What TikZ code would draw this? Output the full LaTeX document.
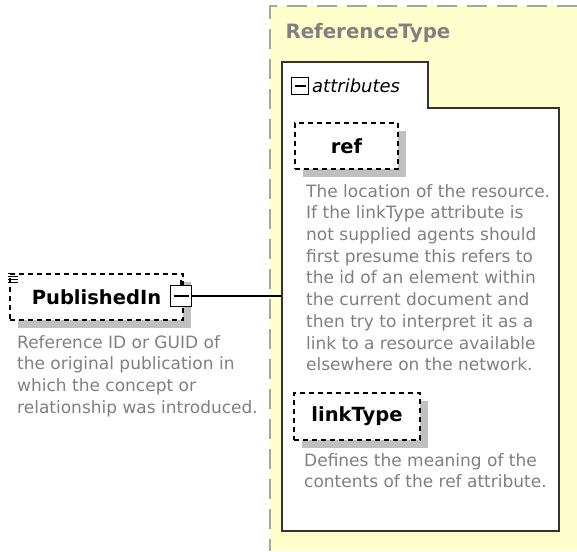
\documentclass[tikz,border=0pt]{standalone}
\usepackage{fontspec}
\setmainfont{DejaVu Sans}
\usetikzlibrary{shadows}

\definecolor{typebg}{RGB}{255,255,206}
\definecolor{typeline}{RGB}{168,168,150}
\definecolor{doctext}{RGB}{128,128,128}
\definecolor{shadowgray}{RGB}{192,192,192}

\begin{document}
\begin{tikzpicture}[x=1pt, y=-1pt,
    elem/.style={draw, dash pattern=on 5pt off 4pt, fill=white, line width=1.6pt, inner sep=0pt,
        font=\fontsize{19.5}{22}\selectfont\bfseries,
        drop shadow={shadow xshift=8pt, shadow yshift=-8pt, fill=shadowgray, opacity=1}},
    doc/.style={anchor=north west, align=left, text=doctext, inner sep=0pt,
        font=\fontsize{17}{21.7}\selectfont},
    toggle/.style={draw, line width=1.5pt, fill=white, inner sep=0pt, path picture={
        \draw[line width=1.5pt] ([xshift=3pt]path picture bounding box.west) -- ([xshift=-3pt]path picture bounding box.east);}}
]
    \useasboundingbox (0,0) rectangle (577,551);

    % complex type area
    \fill[typebg] (270,6) rectangle (577,551);
    \draw[typeline, dash pattern=on 20pt off 10pt, line width=1.5pt] (577,6) -- (270,6) -- (270,551);
    \node[anchor=west, text=gray, font=\fontsize{19.8}{22}\selectfont\bfseries] (typename) at (282,33) {ReferenceType};

    % attributes group
    \draw[fill=white, line width=2pt, draw=black!80] (282,531) -- (282,62) -- (428,62) -- (428,108) -- (559,108) -- (559,531) -- cycle;
    \node[toggle, minimum size=17pt] (attrtoggle) at (300,86) {};
    \node[anchor=west, inner sep=0pt, font=\fontsize{18}{20}\selectfont\itshape] (attrlabel) at (312,86) {attributes};
    \coordinate (attrin) at (282,296);

    % attribute ref
    \node[elem, minimum width=103pt, minimum height=46pt] (ref) at (346.5,146) {ref};
    \node[doc] (refdoc) at (306,184) { The location of the resource.\\If the linkType attribute is\\not supplied agents should\\first presume this refers to\\the id of an element within\\the current document and\\then try to interpret it as a\\link to a resource available\\elsewhere on the network.};

    % attribute linkType
    \node[elem, minimum width=126pt, minimum height=47pt] (linktype) at (357,416.5) {linkType};
    \node[doc] (linkdoc) at (304,453) { Defines the meaning of the\\contents of the ref attribute.};

    % element PublishedIn
    \node[elem, minimum width=173pt, minimum height=46pt] (pub) at (96.5,297) {PublishedIn\hspace{8pt}};
    \foreach \y/\l in {273/6, 276/10, 279/10, 282/10}
        \draw[line width=0.9pt] (8,\y) -- ++(\l,0);
    \node[toggle, minimum size=21pt] (pubtoggle) at (181,296) {};
    \draw[line width=1.5pt] (pubtoggle.north) -- ++(0,-5);
    \node[doc] (pubdoc) at (17,335) {Reference ID or GUID of\\the original publication in\\which the concept or\\relationship was introduced.};

    \draw[line width=1.5pt] (pubtoggle) -- (attrin);
\end{tikzpicture}
\end{document}
